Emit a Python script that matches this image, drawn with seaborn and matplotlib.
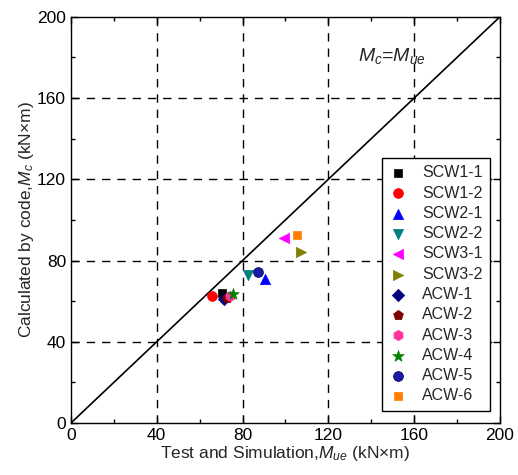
import matplotlib
matplotlib.use("Agg")
import matplotlib.pyplot as plt
import seaborn as sns
import pandas as pd

names = ["SCW1-1", "SCW1-2", "SCW2-1", "SCW2-2", "SCW3-1", "SCW3-2",
         "ACW-1", "ACW-2", "ACW-3", "ACW-4", "ACW-5", "ACW-6"]
m_ue = [70.2, 65.9, 90.4, 82.4, 99.3, 107.1, 71.3, 72.9, 74.1, 75.4, 87.3, 105.2]
m_c = [64.2, 62.6, 70.8, 72.9, 91.0, 84.1, 60.9, 61.7, 62.6, 63.5, 74.5, 92.6]
colors = ["#000000", "#ff0000", "#0000ff", "#008080", "#ff00ff", "#808000",
          "#000080", "#800000", "#ff3399", "#008000", "#1a1aa8", "#ff8000"]
markers = ["s", "o", "^", "v", "<", ">", "D", "p", "h", "*", "o", "s"]
sizes = [40, 50, 55, 55, 55, 55, 40, 55, 55, 75, 50, 40]
ticks = [0, 40, 80, 120, 160, 200]

sns.set_theme(style="ticks")
plt.rcParams["font.family"] = ["Liberation Sans", "DejaVu Sans"]
plt.rcParams["mathtext.fontset"] = "custom"
plt.rcParams["mathtext.it"] = "Liberation Sans:italic"
plt.rcParams["mathtext.rm"] = "Liberation Sans"

df = pd.DataFrame({"name": names, "x": m_ue, "y": m_c})

fig = plt.figure(figsize=(5.18, 4.75), dpi=100)
ax = fig.add_axes([0.137, 0.1095, 0.828, 0.855])

ax.plot([0, 200], [0, 200], color="black", lw=1.2, zorder=2)

for i, n in enumerate(names):
    sub = df[df["name"] == n]
    sns.scatterplot(data=sub, x="x", y="y", ax=ax, color=colors[i], marker=markers[i],
                    s=sizes[i], edgecolor=colors[i] if i != 10 else "#000050",
                    linewidth=0.5, label=n, zorder=3)

ax.set_xlim(0, 200)
ax.set_ylim(0, 200)
ax.set_xticks(ticks)
ax.set_yticks(ticks)
ax.set_xticks(range(20, 200, 40), minor=True)
ax.set_yticks(range(20, 200, 40), minor=True)
ax.tick_params(which="both", direction="in", top=True, right=True, colors="black",
               labelsize=12.5, width=1.0)
ax.tick_params(which="major", length=5)
ax.tick_params(which="minor", length=3)
for s in ax.spines.values():
    s.set_color("black")
    s.set_linewidth(1.0)
for t in ticks[1:-1]:
    ax.axvline(t, color="black", ls=(0, (6, 5)), lw=1.0, zorder=1)
    ax.axhline(t, color="black", ls=(0, (6, 5)), lw=1.0, zorder=1)

ax.set_xlabel(r"Test and Simulation,$M_{ue}$ (kN$\times$m)", fontsize=12.5, labelpad=1)
ax.set_ylabel(r"Calculated by code,$M_c$ (kN$\times$m)", fontsize=12.5, labelpad=1)
ax.text(134, 180.5, r"$M_c$=$M_{ue}$", fontsize=14, ha="left", va="center")

leg = ax.legend(loc="upper right", bbox_to_anchor=(0.977, 0.652), fontsize=11.5,
                frameon=True, fancybox=False, edgecolor="black", framealpha=1,
                labelspacing=0.33, handletextpad=0.9, borderpad=0.45,
                borderaxespad=0, handlelength=1.2, markerscale=1.0)
leg.get_frame().set_linewidth(1.0)

fig.savefig("out.png", dpi=100)
